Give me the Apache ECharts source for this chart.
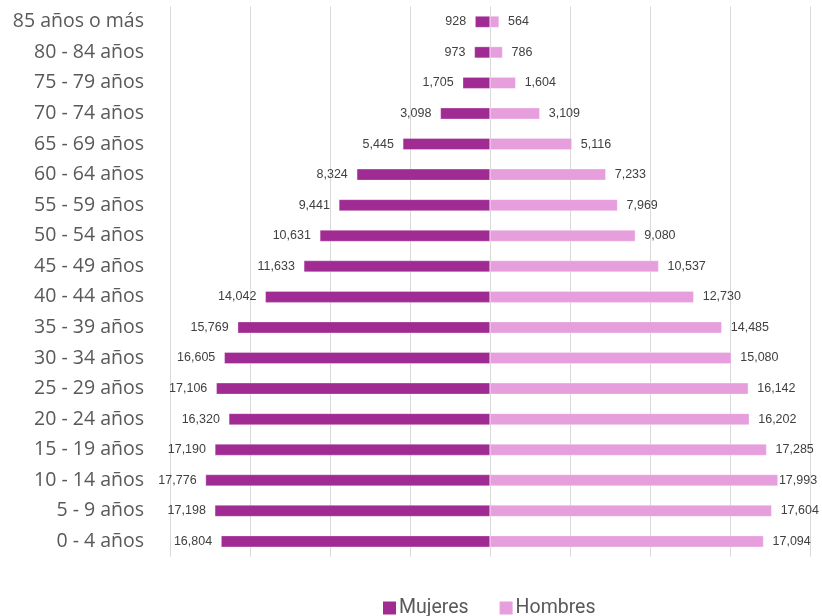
<!DOCTYPE html>
<html>
<head>
<meta charset="utf-8">
<script src="https://cdn.jsdelivr.net/npm/echarts@6/dist/echarts.min.js"></script>
<style>
html,body{margin:0;padding:0;background:#fff;}
#chart{width:822px;height:616px;}
</style>
</head>
<body>
<div id="chart"></div>
<script>
const categories = ["0 - 4 años","5 - 9 años","10 - 14 años","15 - 19 años","20 - 24 años","25 - 29 años","30 - 34 años","35 - 39 años","40 - 44 años","45 - 49 años","50 - 54 años","55 - 59 años","60 - 64 años","65 - 69 años","70 - 74 años","75 - 79 años","80 - 84 años","85 años o más"];
const mujeres = [16804,17198,17776,17190,16320,17106,16605,15769,14042,11633,10631,9441,8324,5445,3098,1705,973,928];
const hombres = [17094,17604,17993,17285,16202,16142,15080,14485,12730,10537,9080,7969,7233,5116,3109,1604,786,564];
const seriesNames = ["Mujeres","Hombres"];

const fmt = v => Math.abs(v).toLocaleString('en-US');
const chart = echarts.init(document.getElementById('chart'));
const labelBase = {show:true, color:'#404040', fontSize:12.5, fontFamily:'Liberation Sans, Arial, sans-serif', distance:9, formatter:p=>fmt(p.value)};
const maxX = 20000;
chart.setOption({
  animation:false,
  grid:{left:170, right:12, top:6.5, bottom:59.3, containLabel:false},
  legend:{
    data:seriesNames, left:383, top:598, padding:0, itemWidth:13, itemHeight:13, itemGap:31,
    icon:'rect',
    itemStyle:{borderWidth:0},
    textStyle:{color:'#595959', fontSize:19.5, fontFamily:'Roboto, sans-serif', padding:[0,0,0,-2]}
  },
  xAxis:{
    type:'value', min:-maxX, max:maxX, interval:5000,
    axisLabel:{show:false}, axisLine:{show:false}, axisTick:{show:false},
    splitLine:{show:true, lineStyle:{color:'#d9d9d9', width:1}}
  },
  yAxis:{
    type:'category', data:categories,
    axisLine:{show:false}, axisTick:{show:false},
    axisLabel:{color:'#595959', fontSize:19.5, fontFamily:'Open Sans, sans-serif', margin:26}
  },
  series:[
    {
      name:seriesNames[0], type:'bar', barWidth:11.5, barGap:'-100%',
      itemStyle:{color:'#A02B93', borderColor:'rgba(255,255,255,0.6)', borderWidth:0.5},
      label:Object.assign({}, labelBase, {position:'left'}),
      data:mujeres.map(v=>-v)
    },
    {
      name:seriesNames[1], type:'bar', barWidth:11.5, barGap:'-100%',
      itemStyle:{color:'#E69EDC', borderColor:'rgba(255,255,255,0.6)', borderWidth:0.5},
      label:Object.assign({}, labelBase, {position:'right'}),
      data:hombres.map(v=> v > 17800 ? {value:v, label:{distance:1}} : v)
    }
  ]
});
</script>
</body>
</html>
